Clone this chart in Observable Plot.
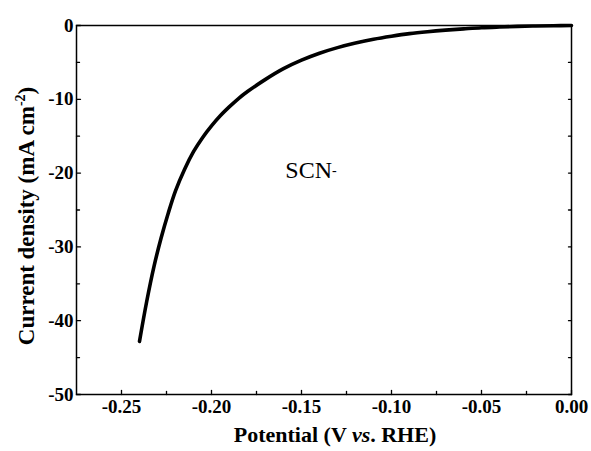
<!DOCTYPE html>
<html><head><meta charset="utf-8">
<script src="https://cdn.jsdelivr.net/npm/d3@7"></script>
<script src="https://cdn.jsdelivr.net/npm/@observablehq/plot@0.6"></script>
<style>
body{margin:0;background:#fff;}
svg, svg text{font-family:"Liberation Serif","Times New Roman",serif !important;}
</style>
</head><body><div id="chart"></div>
<script>
// LSV curve (Potential in V vs RHE, current density in mA cm^-2)
const potential = [-0.240,-0.236,-0.232,-0.228,-0.224,-0.220,-0.215,-0.210,-0.205,-0.200,-0.195,-0.190,-0.185,-0.180,-0.170,-0.160,-0.150,-0.140,-0.130,-0.120,-0.110,-0.100,-0.090,-0.080,-0.070,-0.060,-0.050,-0.040,-0.030,-0.020,-0.010,0.000];
const current   = [-42.8,-37.4,-32.7,-28.8,-25.4,-22.4,-19.5,-17.1,-15.2,-13.6,-12.2,-11.0,-9.9,-8.95,-7.3,-5.85,-4.7,-3.76,-3.0,-2.38,-1.86,-1.45,-1.10,-0.84,-0.63,-0.46,-0.30,-0.20,-0.12,-0.07,-0.03,0.0];

const xMajorTicks = [-0.25,-0.20,-0.15,-0.10,-0.05,0.00];
const xMinorTicks = [-0.225,-0.175,-0.125,-0.075,-0.025];
const yMajorTicks = [0,-10,-20,-30,-40,-50];
const yMinorTicks = [-5,-15,-25,-35,-45];

const annotX = [-0.159];
const annotY = [-20.6];
const annotText = ["SCN"];

const FONT = '"Liberation Serif","Times New Roman",serif';
const data = potential.map((p,i)=>({p, j: current[i]}));
const annot = annotX.map((x,i)=>({x, y: annotY[i], t: annotText[i]}));

const tickShape = {draw(context, l) { context.moveTo(0,0); context.lineTo(0,-l); }};
const tickOpts = {shape: tickShape, anchor: "start", stroke: "black", strokeWidth: 1.3};

const svg = Plot.plot({
  width: 591, height: 451,
  marginLeft: 76, marginRight: 20, marginTop: 25, marginBottom: 57,
  x: {domain: [-0.275, 0]},
  y: {domain: [-50, 0]},
  style: {fontFamily: FONT, background: "white", color: "black"},
  marks: [
    Plot.axisX(xMajorTicks, {tickSize: 0, tickPadding: 5, tickFormat: d => d.toFixed(2), fontSize: 19, fontWeight: "bold", fontFamily: FONT, label: null}),
    Plot.axisY(yMajorTicks, {tickSize: 0, tickPadding: 3, tickFormat: d => String(d), fontSize: 19, fontWeight: "bold", fontFamily: FONT, label: null}),
    Plot.vector(xMajorTicks, {x: d => d, frameAnchor: "bottom", rotate: 0, length: 4, ...tickOpts}),
    Plot.vector(xMinorTicks, {x: d => d, frameAnchor: "bottom", rotate: 0, length: 3, ...tickOpts}),
    Plot.vector(yMajorTicks, {y: d => d, frameAnchor: "left", rotate: 90, length: 4, ...tickOpts}),
    Plot.vector(yMinorTicks, {y: d => d, frameAnchor: "left", rotate: 90, length: 3, ...tickOpts}),
    Plot.vector(yMajorTicks, {y: d => d, frameAnchor: "right", rotate: -90, length: 3, ...tickOpts}),
    Plot.vector(yMinorTicks, {y: d => d, frameAnchor: "right", rotate: -90, length: 3, ...tickOpts}),
    Plot.frame({stroke: "black", strokeWidth: 1.5}),
    Plot.line(data, {x: "p", y: "j", stroke: "black", strokeWidth: 3.6, curve: "catmull-rom"}),
    Plot.text(annot, {x: "x", y: "y", text: "t", textAnchor: "start", lineAnchor: "bottom", fontSize: 24, fontFamily: FONT, fill: "black", className: "annot"})
  ]
});

const s = d3.select(svg);
// superscript on annotation
s.selectAll(".annot text").each(function() {
  d3.select(this).append("tspan").attr("dy", -3).attr("font-size", 14).text("-");
});
// x axis title
const xt = s.append("text").attr("x", 335).attr("y", 442).attr("text-anchor", "middle")
  .attr("font-family", FONT).attr("font-size", 22).attr("font-weight", "bold").attr("fill", "black");
xt.append("tspan").text("Potential (V ");
xt.append("tspan").attr("font-style", "italic").text("vs");
xt.append("tspan").text(". RHE)");
// y axis title
const yt = s.append("text").attr("transform", "translate(34,216) rotate(-90)").attr("text-anchor", "middle")
  .attr("font-family", FONT).attr("font-size", 23).attr("font-weight", "bold").attr("fill", "black");
yt.append("tspan").text("Current density (mA cm");
yt.append("tspan").attr("dy", -9).attr("font-size", 14).text("-2");
yt.append("tspan").attr("dy", 9).text(")");

document.getElementById("chart").appendChild(svg);
</script>
</body></html>
